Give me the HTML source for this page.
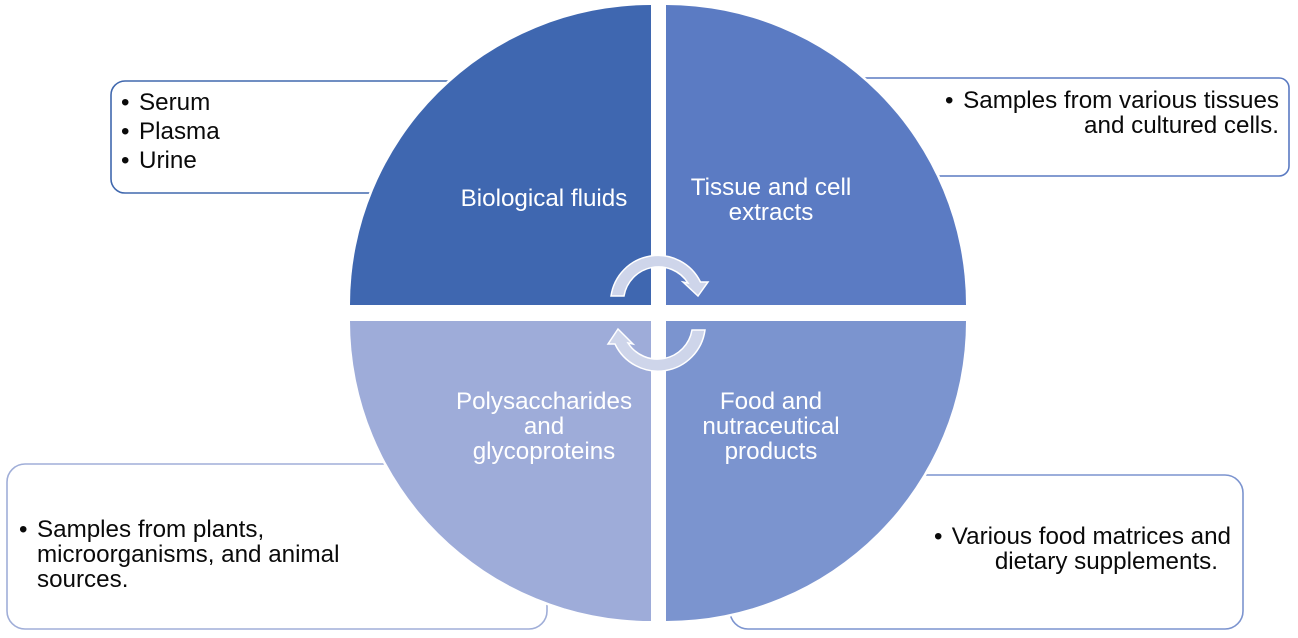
<!DOCTYPE html>
<html><head><meta charset="utf-8"><style>
html,body{margin:0;padding:0;background:#fff}
svg{display:block}
text{font-family:"Liberation Sans",Arial,sans-serif;font-size:24.2px;fill:#0a0a0a}
.w{fill:#fff;text-anchor:middle}
.e{text-anchor:end}
.p{stroke:#fff;stroke-width:5;paint-order:stroke}
</style></head><body>
<svg width="1298" height="638" viewBox="0 0 1298 638" xmlns="http://www.w3.org/2000/svg">
<rect width="1298" height="638" fill="#fff"/>
<rect x="111" y="81" width="420" height="112" rx="14" fill="#fff" stroke="#4068ae" stroke-width="1.6"/>
<rect x="780" y="78" width="509" height="98" rx="10" fill="#fff" stroke="#5a7ac2" stroke-width="1.6"/>
<rect x="7" y="464" width="540" height="165" rx="18" fill="#fff" stroke="#a0aed8" stroke-width="1.6"/>
<rect x="730" y="475" width="513" height="154" rx="18" fill="#fff" stroke="#7c94cf" stroke-width="1.6"/>
<path class="p" d="M651 305H350A301 300 0 0 1 651 5Z" fill="#3f67b0"/>
<path class="p" d="M666 305V5A300 300 0 0 1 966 305Z" fill="#5b7bc3"/>
<path class="p" d="M651 321H350A301 300 0 0 0 651 621Z" fill="#9eacd9"/>
<path class="p" d="M666 321V621A300 300 0 0 0 966 321Z" fill="#7b94cf"/>
<path d="M611 296A47.4 47.4 0 0 1 700.5 282L708 282L698 296L683 282L688 283A35 35 0 0 0 624 296Z" fill="#ced5ea" stroke="#fff" stroke-width="1.5"/>
<path d="M705 330A47.5 47.5 0 0 1 615 344L608 344L618 329L633 344L628 343A35 35 0 0 0 692 330Z" fill="#ced5ea" stroke="#fff" stroke-width="1.5"/>
<text class="w" x="544" y="206">Biological fluids</text>
<text class="w" x="771" y="195">Tissue and cell</text>
<text class="w" x="771" y="220">extracts</text>
<text class="w" x="544" y="409">Polysaccharides</text>
<text class="w" x="544" y="434">and</text>
<text class="w" x="544" y="459">glycoproteins</text>
<text class="w" x="771" y="409">Food and</text>
<text class="w" x="771" y="434">nutraceutical</text>
<text class="w" x="771" y="459">products</text>
<text x="121" y="110">•</text><text x="139" y="110">Serum</text>
<text x="121" y="139">•</text><text x="139" y="139">Plasma</text>
<text x="121" y="168">•</text><text x="139" y="168">Urine</text>
<text x="945" y="108">•</text><text class="e" x="1279" y="108">Samples from various tissues</text>
<text class="e" x="1279" y="133">and cultured cells.</text>
<text x="19" y="537">•</text><text x="37" y="537">Samples from plants,</text>
<text x="37" y="562">microorganisms, and animal</text>
<text x="37" y="587">sources.</text>
<text x="934" y="544">•</text><text class="e" x="1231" y="544">Various food matrices and</text>
<text class="e" x="1218" y="569">dietary supplements.</text>
</svg>
</body></html>
